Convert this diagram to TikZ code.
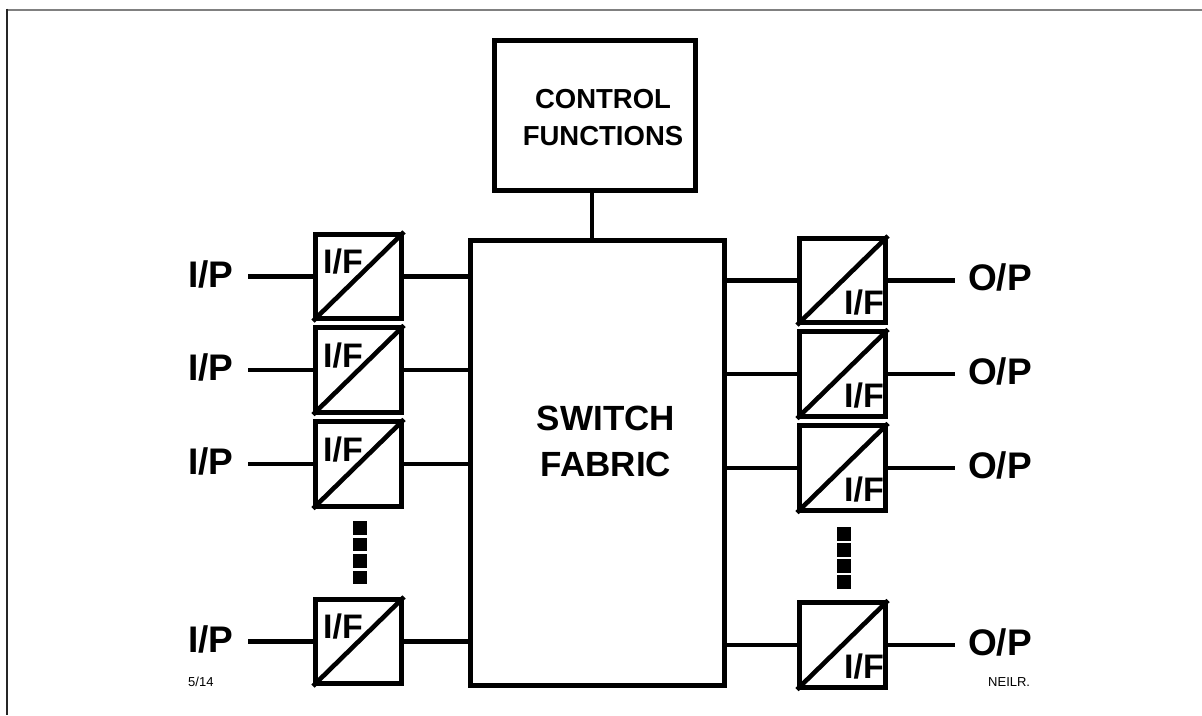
\documentclass[tikz,border=0pt]{standalone}
\usepackage{fontspec}
\setmainfont{Liberation Sans}
\usetikzlibrary{calc}
\begin{document}
\begin{tikzpicture}[x=1pt,y=-1pt,
  thick4/.style={line width=4.6pt},
  ifbox/.style={draw,line width=4.6pt,minimum width=86.5pt,minimum height=84.5pt,inner sep=0pt},
  iplabel/.style={inner sep=0pt,anchor=base west,font=\fontsize{37}{37}\selectfont\bfseries},
  iftxt/.style={inner sep=0pt,font=\fontsize{34}{34}\selectfont\bfseries},
  dotsq/.style={fill=black,minimum width=14pt,minimum height=13.5pt,inner sep=0pt},
  small/.style={inner sep=0pt,anchor=base west,font=\fontsize{13}{13}\selectfont}
]
\useasboundingbox (0,0) rectangle (1202,715);
% frame
\draw[line width=2pt,gray] (6,9.5) -- (1202,9.5);
\draw[line width=2pt,black!85] (7,8.5) -- (7,715);

% control and fabric
\node[draw,line width=4.6pt,minimum width=201.5pt,minimum height=150.5pt,inner sep=0pt,align=center,
  font=\fontsize{27.5}{37}\selectfont\bfseries] (ctrl) at (595,115.5) {};
\node[inner sep=0pt,align=center,font=\fontsize{27.5}{37}\selectfont\bfseries] (ctrltxt) at (603,118) {CONTROL\\FUNCTIONS};
\node[draw,line width=4.6pt,minimum width=254.5pt,minimum height=445.5pt,inner sep=0pt] (fab) at (597.5,463) {};
\node[inner sep=0pt,align=center,font=\fontsize{35}{46}\selectfont\bfseries] (fabtxt) at (606,441) {SWITCH\\FABRIC};
\coordinate (cx) at (592,0);
\draw[thick4] (ctrl.south -| cx) -- (fab.north -| cx);

% left side
\foreach \i/\y in {1/276.5,2/370,3/464,4/641.5}{
  \node[ifbox] (L\i) at (358.5,\y) {};
  \draw[thick4] (L\i.south west) -- (L\i.north east);
  \node[iftxt,anchor=base west] (Lt\i) at ($(L\i.north west)+(10,42)$) {I/F};
  \node[iplabel] (ip\i) at (188,\y+10.5) {I/P};
  \coordinate (ia\i) at (248,\y);
  \draw[thick4] (ia\i) -- (L\i.west);
  \draw[thick4] (L\i.east) -- (L\i.east -| fab.west);
}
% right side
\foreach \i/\y in {1/280.5,2/374,3/468,4/645}{
  \node[ifbox] (R\i) at (842.5,\y) {};
  \draw[thick4] (R\i.south west) -- (R\i.north east);
  \node[iftxt,anchor=base east] (Rt\i) at ($(R\i.south east)+(-4,-11)$) {I/F};
  \node[iplabel] (op\i) at (968,\y+10) {O/P};
  \coordinate (oa\i) at (955,\y);
  \draw[thick4] (R\i.east) -- (oa\i);
  \draw[thick4] (fab.east |- R\i.west) -- (R\i.west);
}
% dots
\foreach \k in {0,1,2,3}{
  \node[dotsq] (ld\k) at (360,528+16.5*\k) {};
  \node[dotsq] (rd\k) at (843.5,534+16*\k) {};
}
\node[small] (pg) at (188,686) {5/14};
\node[small] (au) at (988,686) {NEILR.};
\end{tikzpicture}
\end{document}
